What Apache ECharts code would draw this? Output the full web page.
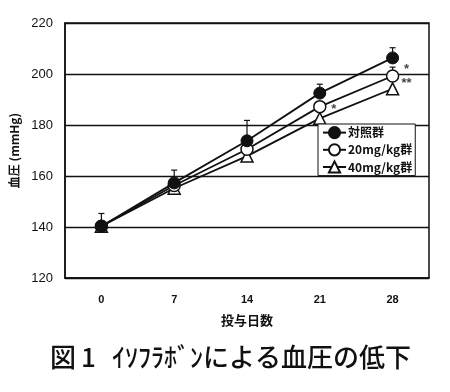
<!DOCTYPE html>
<html><head><meta charset="utf-8">
<script src="https://cdn.jsdelivr.net/npm/echarts@6/dist/echarts.min.js"></script>
<style>html,body{margin:0;padding:0;background:#fff}#c{width:450px;height:392px}</style>
</head><body><div id="c"></div>
<script>
const days = ['0','7','14','21','28'];
const control = [140.3, 157.3, 173.8, 192.5, 206.3];
const mg20 = [140.3, 156.3, 170.5, 187.2, 199.2];
const mg40 = [140.3, 155.2, 167.8, 182.6, 194.2];
const controlErr = [5, 5, 8, 3.5, 4];
const mg20Err = [0, 0, 0, 0, 3.5];
const yTicks = [120, 140, 160, 180, 200, 220];
const seriesNames = ['対照群', '20mg/kg群', '40mg/kg群'];
const marks = [[4, 202.6, '*'], [4, 197.0, '**'], [3, 186.7, '*']];
const titleParts = ['図', '1', 'ｲｿﾌﾗﾎﾞﾝによる血圧の低下'];

const font = '"Liberation Sans", Arial, sans-serif';
const jp = '"Noto Sans CJK JP", sans-serif';
const ink = '#111';

function errData(mean, err) {
  return mean.map((v, i) => [i, v, err[i]]).filter(d => d[2] > 0);
}
function errRender(params, api) {
  const x = api.value(0), y = api.value(1), e = api.value(2);
  const p0 = api.coord([x, y]);
  const p1 = api.coord([x, y + e]);
  return {
    type: 'group',
    children: [
      {type: 'line', shape: {x1: p0[0], y1: p0[1], x2: p1[0], y2: p1[1]}, style: {stroke: ink, lineWidth: 1.2}},
      {type: 'line', shape: {x1: p1[0] - 3, y1: p1[1], x2: p1[0] + 3, y2: p1[1]}, style: {stroke: ink, lineWidth: 1.2}}
    ]
  };
}

const titleStyle = {fontSize: 26, fontWeight: 500, fontFamily: jp, fill: ink, textVerticalAlign: 'middle'};
const chart = echarts.init(document.getElementById('c'));
chart.setOption({
  animation: false,
  backgroundColor: '#fff',
  graphic: [
    {type: 'text', left: 50, top: 344, style: Object.assign({text: titleParts[0]}, titleStyle)},
    {type: 'text', left: 81, top: 344, style: Object.assign({text: titleParts[1]}, titleStyle)},
    {type: 'text', left: 112, top: 344, style: Object.assign({text: titleParts[2]}, titleStyle)}
  ],
  grid: {left: 65, right: 21, top: 23, bottom: 114, show: true, borderColor: ink, borderWidth: 1.5, backgroundColor: 'transparent'},
  legend: {
    orient: 'vertical', left: 318, top: 124,
    data: seriesNames,
    backgroundColor: '#fff', borderColor: ink, borderWidth: 1,
    padding: [2, 3, 2, 4], itemGap: 4, itemWidth: 23, itemHeight: 14,
    textStyle: {fontSize: 12, fontWeight: 'bold', fontFamily: jp, color: ink, padding: [0, 0, 0, -3]}
  },
  xAxis: {
    type: 'category', data: days, boundaryGap: true,
    name: '投与日数', nameLocation: 'middle', nameGap: 36,
    nameTextStyle: {fontSize: 13, fontWeight: 'bold', fontFamily: jp, color: ink},
    axisLine: {lineStyle: {color: ink, width: 1.5}},
    axisTick: {inside: true, length: 4, lineStyle: {color: ink, width: 1.2}},
    axisLabel: {fontSize: 11, fontWeight: 'bold', fontFamily: font, color: ink, margin: 16},
    splitLine: {show: false}
  },
  yAxis: {
    type: 'value', min: yTicks[0], max: yTicks[yTicks.length - 1], interval: 20,
    name: '血圧 (mmHg)', nameLocation: 'middle', nameGap: 37, nameRotate: 90,
    nameTextStyle: {fontSize: 12, fontWeight: 'bold', fontFamily: jp, color: ink},
    axisLine: {show: true, lineStyle: {color: ink, width: 1.5}},
    axisTick: {show: false},
    axisLabel: {fontSize: 13, fontFamily: font, color: ink, margin: 12},
    splitLine: {show: true, lineStyle: {color: ink, width: 1.3}}
  },
  series: [
    {type: 'custom', renderItem: errRender, data: errData(control, controlErr), z: 1, silent: true},
    {type: 'custom', renderItem: errRender, data: errData(mg20, mg20Err), z: 1, silent: true},
    {name: seriesNames[2], type: 'line', data: mg40, symbol: 'triangle', symbolSize: 12,
     lineStyle: {color: ink, width: 1.8}, itemStyle: {color: '#fff', borderColor: ink, borderWidth: 1.5}, z: 2},
    {name: seriesNames[1], type: 'line', data: mg20, symbol: 'circle', symbolSize: 12,
     lineStyle: {color: ink, width: 1.8}, itemStyle: {color: '#fff', borderColor: ink, borderWidth: 1.5}, z: 3},
    {name: seriesNames[0], type: 'line', data: control, symbol: 'circle', symbolSize: 12,
     lineStyle: {color: ink, width: 1.8}, itemStyle: {color: ink, borderColor: ink, borderWidth: 1}, z: 4},
    {type: 'scatter', symbolSize: 0, silent: true, z: 5,
     data: marks.map(m => ({value: [m[0], m[1]], label: {formatter: m[2]}})),
     label: {show: true, position: 'inside', offset: [14, 2], fontSize: 13, fontWeight: 'bold', color: ink, fontFamily: font}}
  ]
});
</script></body></html>
